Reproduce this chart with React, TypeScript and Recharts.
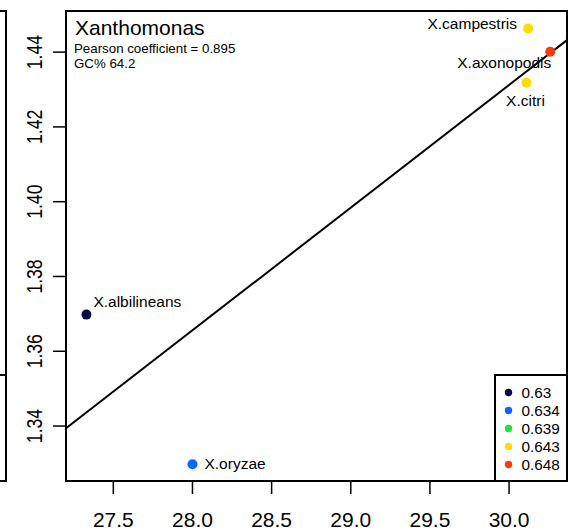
import {
  ScatterChart,
  Scatter,
  XAxis,
  YAxis,
  ReferenceLine,
  ReferenceArea,
} from 'recharts';

const species = ['X.albilineans', 'X.oryzae', 'X.campestris', 'X.axonopodis', 'X.citri'];
const xValues = [27.33, 28.0, 30.12, 30.26, 30.11];
const yValues = [1.3698, 1.3298, 1.4463, 1.4401, 1.4318];
const colorValues = [0.63, 0.634, 0.643, 0.648, 0.643];

const legendValues = [0.63, 0.634, 0.639, 0.643, 0.648];
const legendColors = ['#0a0a40', '#0a66ff', '#22e040', '#ffdc00', '#ff3a0a'];

const xTicks = [27.5, 28.0, 28.5, 29.0, 29.5, 30.0];
const yTicks = [1.34, 1.36, 1.38, 1.4, 1.42, 1.44];

const xDomain = [27.201, 30.366];
const yDomain = [1.3253, 1.451];

// fitted line y = intercept + slope * x
const slope = 0.0328;
const intercept = 0.4472;

const FONT = '"Liberation Sans", Arial, sans-serif';

// where each species name sits relative to its dot
const labelPlace: Record<string, { dx: number; dy: number; anchor: string }> = {
  'X.albilineans': { dx: 7, dy: -8, anchor: 'start' },
  'X.oryzae': { dx: 12, dy: 5, anchor: 'start' },
  'X.campestris': { dx: -11, dy: 0, anchor: 'end' },
  'X.axonopodis': { dx: 1, dy: 16, anchor: 'end' },
  'X.citri': { dx: -1, dy: 23, anchor: 'middle' },
};

const data = species.map((name, i) => ({
  name,
  x: xValues[i],
  y: yValues[i],
  c: colorValues[i],
}));

const colorFor = (v: number) => legendColors[legendValues.indexOf(v)] ?? '#000';

function Dot(props: any) {
  const { cx, cy, payload } = props;
  const lp = labelPlace[payload.name];
  return (
    <g>
      <circle cx={cx} cy={cy} r={5} fill={colorFor(payload.c)} />
      <text
        x={cx + lp.dx}
        y={cy + lp.dy}
        textAnchor={lp.anchor as any}
        fontSize={15.5}
        fontFamily={FONT}
        fill="#000"
      >
        {payload.name}
      </text>
    </g>
  );
}

function YTick(props: any) {
  const { y, payload } = props;
  return (
    <text
      transform={`translate(42,${y}) rotate(-90) scale(0.8,1)`}
      textAnchor="middle"
      fontSize={22}
      fontFamily={FONT}
      fill="#000"
    >
      {payload.value.toFixed(2)}
    </text>
  );
}

export default function App() {
  return (
    <div style={{ position: 'fixed', left: 0, top: 0, width: 568, height: 532, background: '#fff' }}>
      <ScatterChart
        width={568}
        height={532}
        margin={{ top: 11, right: 1, bottom: 0, left: 0 }}
      >
        <XAxis
          type="number"
          dataKey="x"
          domain={xDomain}
          ticks={xTicks}
          allowDataOverflow
          height={51}
          axisLine={false}
          tickSize={13}
          tickMargin={18}
          tickLine={{ stroke: '#000', strokeWidth: 1.5 }}
          tick={{ fontSize: 21, fill: '#000', fontFamily: FONT }}
          tickFormatter={(v: number) => v.toFixed(1)}
        />
        <YAxis
          type="number"
          dataKey="y"
          domain={yDomain}
          ticks={yTicks}
          allowDataOverflow
          width={66}
          axisLine={false}
          tickSize={13}
          tickLine={{ stroke: '#000', strokeWidth: 1.5 }}
          tick={<YTick />}
        />
        <ReferenceArea
          x1={xDomain[0]}
          x2={xDomain[1]}
          y1={yDomain[0]}
          y2={yDomain[1]}
          fill="none"
          fillOpacity={0}
          stroke="#000"
          strokeWidth={2}
        />
        <ReferenceLine
          segment={[
            { x: xDomain[0], y: intercept + slope * xDomain[0] },
            { x: xDomain[1], y: intercept + slope * xDomain[1] },
          ]}
          stroke="#000"
          strokeWidth={2}
        />
        <Scatter data={data} shape={<Dot />} isAnimationActive={false} />
      </ScatterChart>

      <svg
        width={568}
        height={532}
        style={{ position: 'absolute', left: 0, top: 0, pointerEvents: 'none' }}
      >
        {/* edge of the neighbouring panel */}
        <path d="M0 11 H6 V481 H0 M0 375 H6" fill="none" stroke="#000" strokeWidth={2} />

        <text x={75} y={35} fontSize={21} fontFamily={FONT} fill="#000">
          Xanthomonas
        </text>
        <text x={74} y={53} fontSize={13.3} fontFamily={FONT} fill="#000">
          Pearson coefficient = 0.895
        </text>
        <text x={74} y={68} fontSize={13.3} fontFamily={FONT} fill="#000">
          GC% 64.2
        </text>

        <rect x={495} y={375} width={72} height={106} fill="#fff" stroke="#000" strokeWidth={2} />
        {legendValues.map((v, i) => (
          <g key={v}>
            <circle cx={508.5} cy={392.5 + i * 18} r={3.7} fill={legendColors[i]} />
            <text
              x={521.5}
              y={397.5 + i * 18}
              fontSize={15.3}
              fontFamily={FONT}
              fill="#000"
            >
              {v}
            </text>
          </g>
        ))}
      </svg>
    </div>
  );
}
